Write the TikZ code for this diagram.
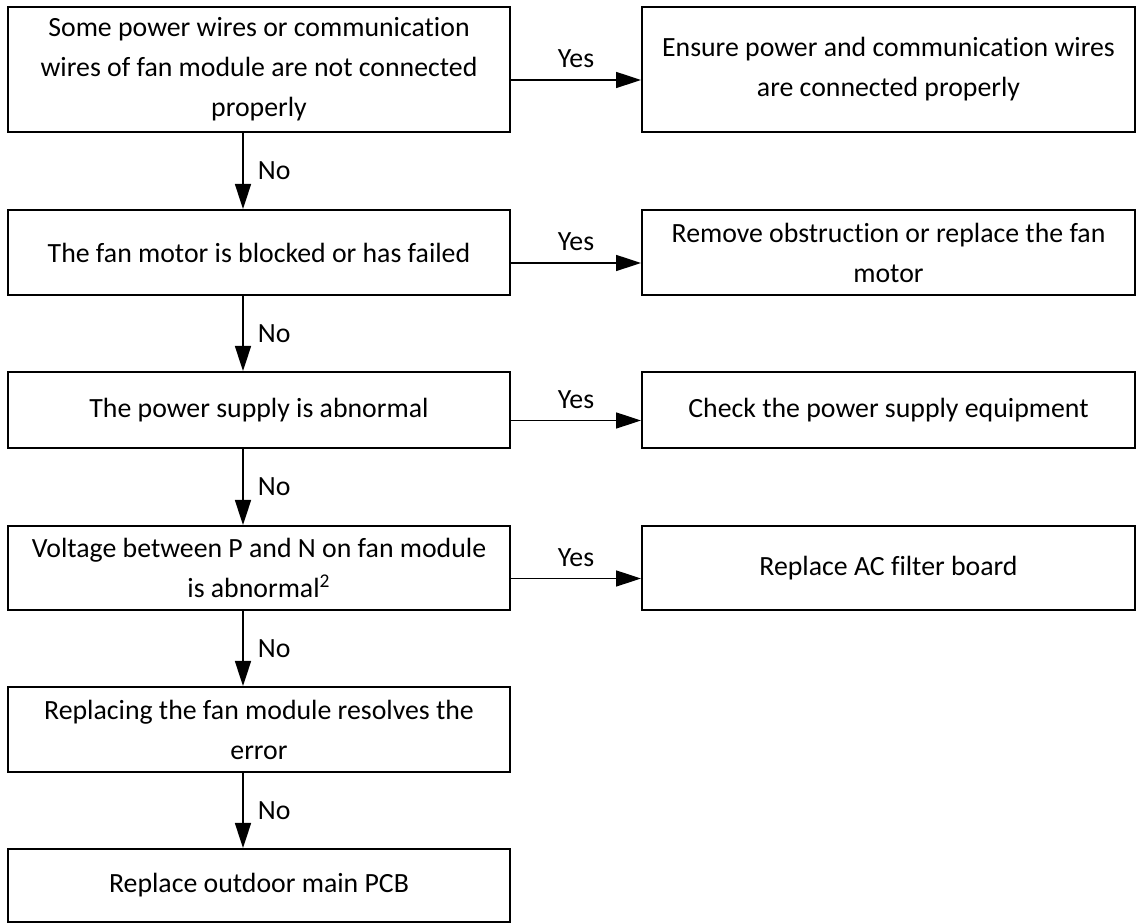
\documentclass[tikz,border=0pt]{standalone}
\usepackage{fontspec}
\setmainfont{Carlito}[Ligatures=NoCommon]
\usetikzlibrary{arrows.meta}
\tikzset{
  box/.style={draw=black, line width=1pt, inner sep=0pt, align=center,
    font=\fontsize{13.9pt}{20pt}\selectfont},
  lbox/.style={box, minimum width=251pt},
  rbox/.style={box, minimum width=246.5pt},
  arr/.style={line width=0.8pt, -{Triangle[length=12.5pt,width=8pt]}},
  lab/.style={font=\fontsize{13.9pt}{16pt}\selectfont, inner sep=0pt}
}
\begin{document}
\begin{tikzpicture}[x=1pt,y=1pt]
\useasboundingbox (0,0) rectangle (568.5,-462);
\node[lbox, minimum height=62.5pt] (L1) at (129.5,-34.75) {Some power wires or communication\\wires of fan module are not connected\\properly};
\node[rbox, minimum height=62.5pt] (R1) at (444.25,-34.75) {Ensure power and communication wires\\are connected properly};
\node[lbox, minimum height=42.5pt] (L2) at (129.5,-126.25) {The fan motor is blocked or has failed};
\node[rbox, minimum height=42.5pt] (R2) at (444.25,-126.25) {Remove obstruction or replace the fan\\motor};
\node[lbox, minimum height=38pt] (L3) at (129.5,-205) {The power supply is abnormal};
\node[rbox, minimum height=38pt] (R3) at (444.25,-205) {Check the power supply equipment};
\node[lbox, minimum height=42pt] (L4) at (129.5,-284) {Voltage between P and N on fan module\\is abnormal\textsuperscript{2}};
\node[rbox, minimum height=42pt] (R4) at (444.25,-284) {Replace AC filter board};
\node[lbox, minimum height=42.5pt] (L5) at (129.5,-364.75) {Replacing the fan module resolves the\\error};
\node[lbox, minimum height=36.5pt] (L6) at (129.5,-442.75) {Replace outdoor main PCB};

\foreach \a/\b in {L1/R1,L2/R2,L3/R3,L4/R4}{
  \draw[arr] ([yshift=-5.25pt]\a.east) -- node[lab, above=5.5pt]{Yes} ([yshift=-5.25pt]\b.west);
}
\foreach \a/\b in {L1/L2,L2/L3,L3/L4,L4/L5,L5/L6}{
  \draw[arr] ([xshift=-8pt]\a.south) -- node[lab, right=7pt]{No} ([xshift=-8pt]\b.north);
}
\end{tikzpicture}
\end{document}
